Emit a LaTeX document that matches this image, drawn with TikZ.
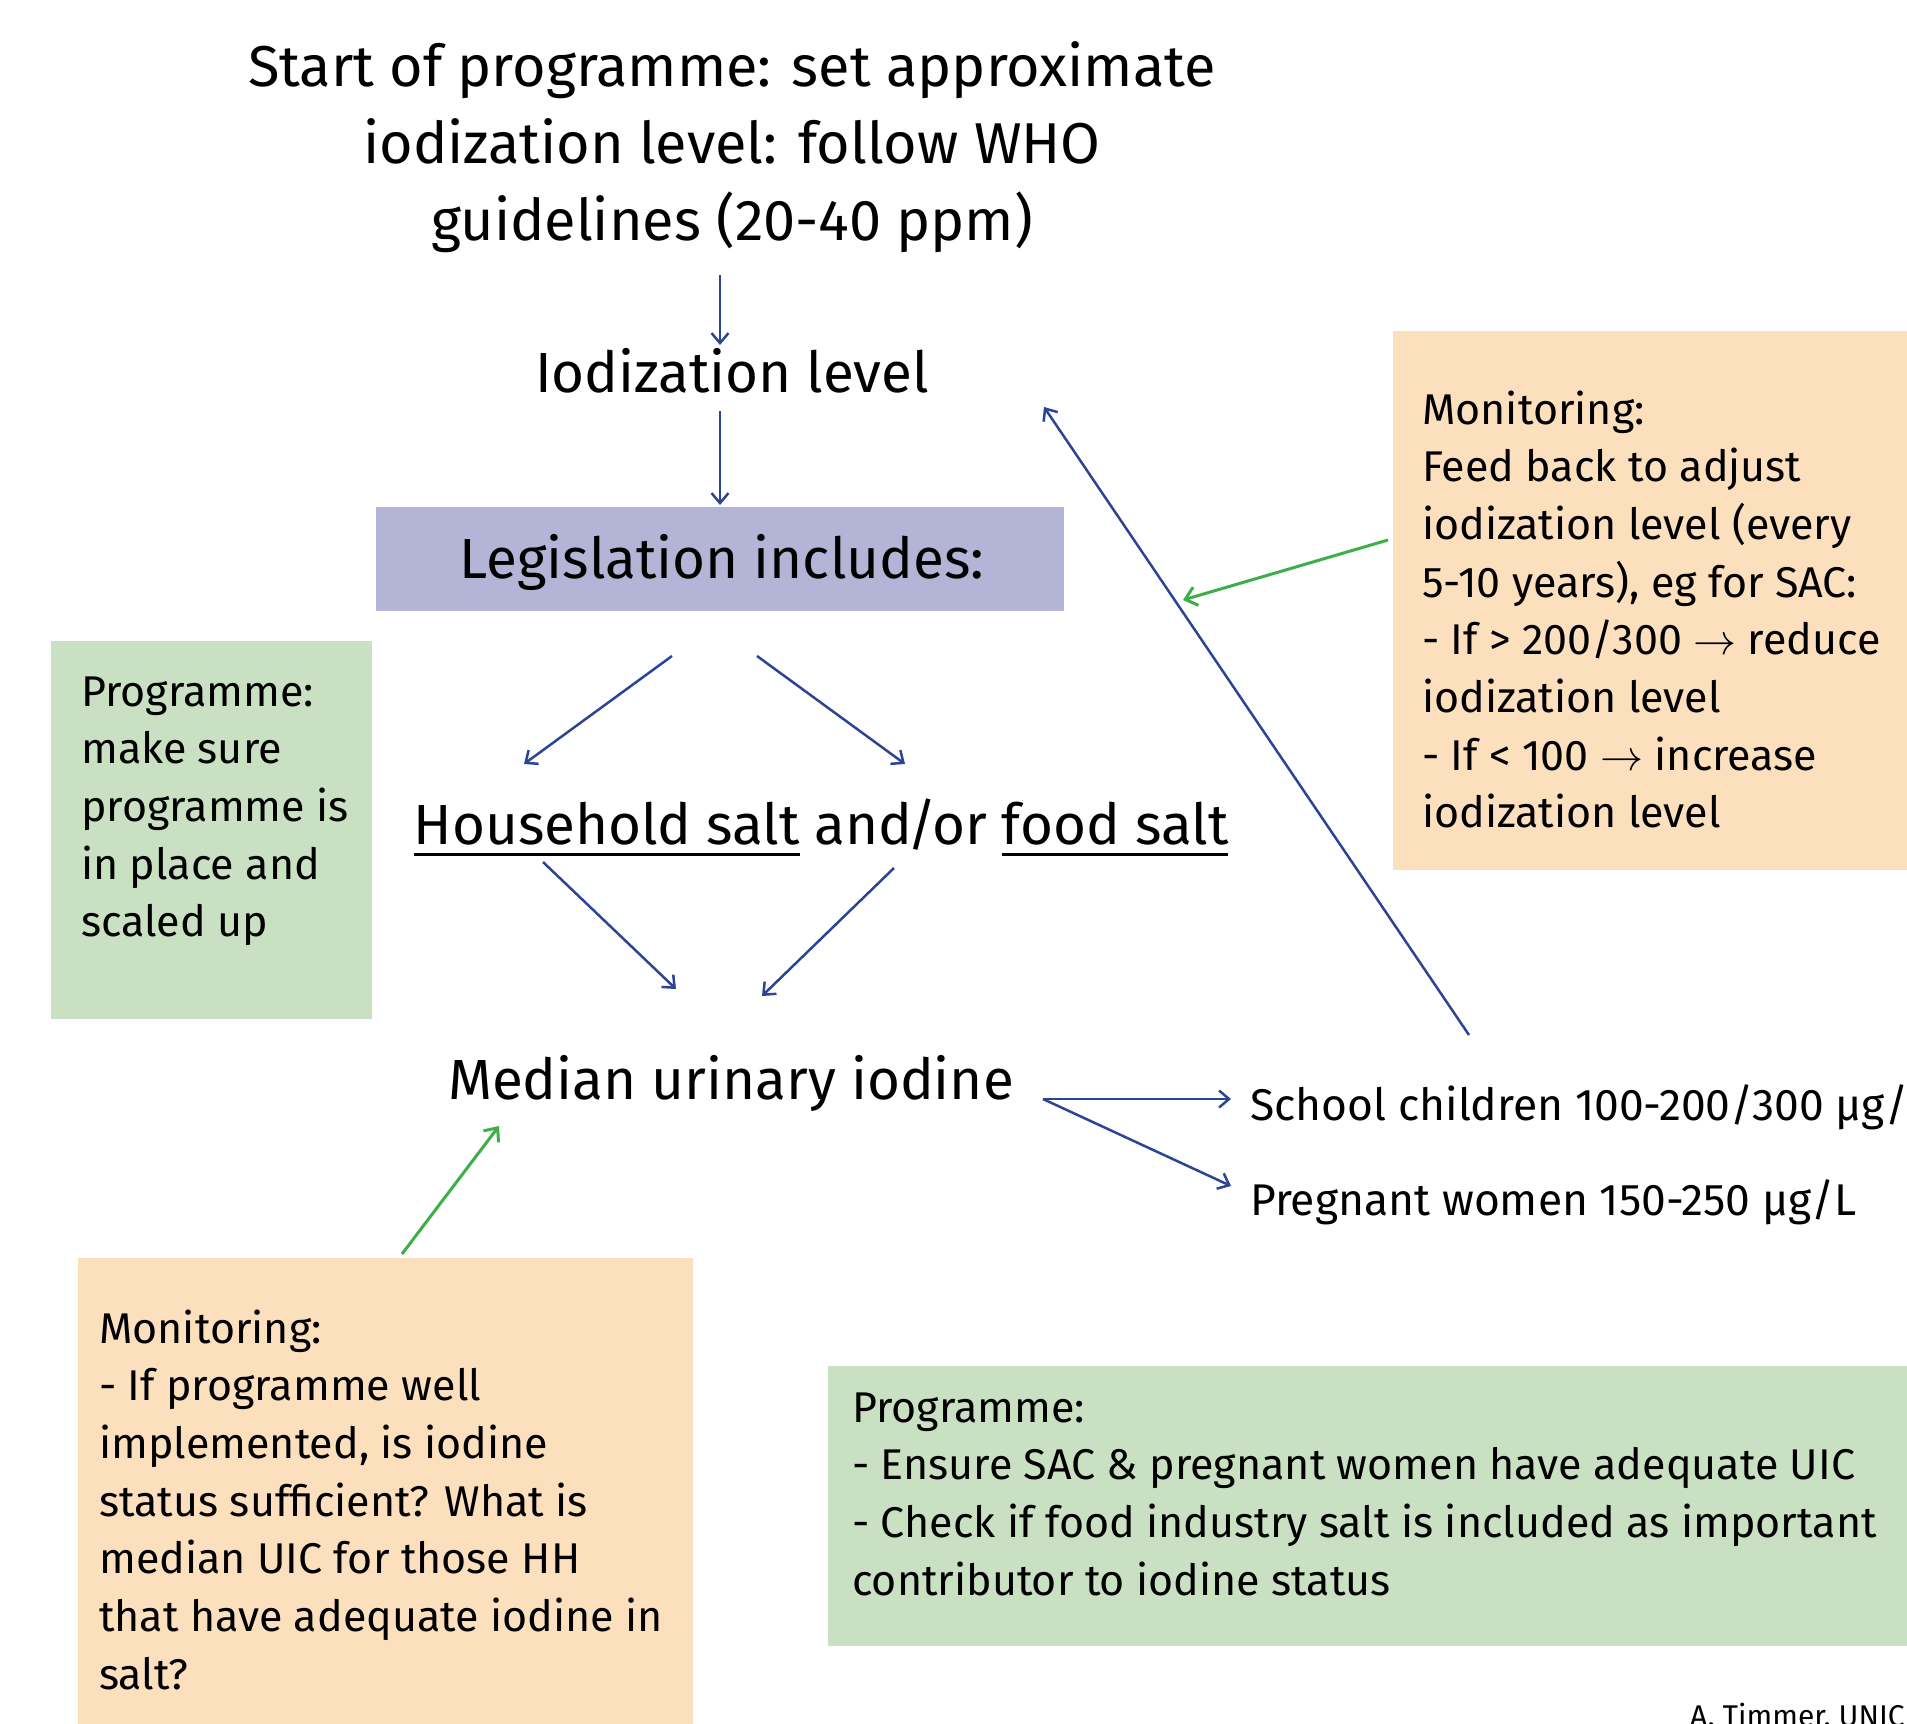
\RequirePackage{fix-cm}
\documentclass[tikz,border=0pt]{standalone}
\usepackage{fontspec}
\setmainfont{Fira Sans}
\usetikzlibrary{arrows.meta}
\definecolor{lav}{RGB}{179,180,214}
\definecolor{grnfill}{RGB}{201,224,194}
\definecolor{orgfill}{RGB}{252,224,190}
\definecolor{blueline}{RGB}{43,69,150}
\definecolor{greenline}{RGB}{61,174,73}
\newcommand\ulsalt[1]{\setbox0\hbox{#1}\rlap{\rule[-12pt]{\wd0}{2.8pt}}\box0\relax}
\begin{document}
\begin{tikzpicture}[x=1pt,y=-1pt,
  bluearrow/.style={draw=blueline,line width=2.5pt,-{Straight Barb[length=10pt,width=17pt]}},
  greenarrow/.style={draw=greenline,line width=3pt,-{Straight Barb[length=11pt,width=19pt]}},
  titletext/.style={inner sep=0pt,font=\fontsize{56.6}{77}\selectfont},
  headtext/.style={inner sep=0pt,font=\fontsize{57.6}{77}\selectfont},
  bodytext/.style={inner sep=0pt,font=\fontsize{43}{57.7}\selectfont},
  targettext/.style={inner sep=0pt,font=\fontsize{44.4}{57.7}\selectfont},
  panel/.style={draw=none,inner sep=0pt,anchor=north west}
]
\useasboundingbox (0,0) rectangle (1907,1724);
\clip (0,0) rectangle (1907,1724);

% boxes
\node[panel,fill=lav,minimum width=688pt,minimum height=104pt] (legbox) at (376,507) {};
\node[panel,fill=grnfill,minimum width=321pt,minimum height=378pt] (progbox) at (51,641) {};
\node[panel,fill=orgfill,minimum width=514pt,minimum height=539pt] (monbox) at (1393,331) {};
\node[panel,fill=orgfill,minimum width=615pt,minimum height=470pt] (mon2box) at (78,1258) {};
\node[panel,fill=grnfill,minimum width=1079pt,minimum height=280pt] (prog2box) at (828,1366) {};

% texts
\node[headtext,anchor=base] (title) at (732,86) {\begin{tabular}[t]{@{}c@{}}Start of programme: set approximate\\ iodization level: follow WHO\\ guidelines (20-40 ppm)\end{tabular}};
\node[titletext,anchor=base] (iod) at (732,392) {Iodization level};
\node[titletext,anchor=base] (leg) at (722,578) {Legislation includes:};
\node[titletext,anchor=base] (salt) at (821,844) {\ulsalt{Household salt} and\kern-5pt/\kern-5pt or \ulsalt{food salt}};
\node[titletext,anchor=base] (mui) at (731,1099) {Median urinary iodine};

\node[targettext,anchor=base west] (sc) at (1250,1120) {School children 100-200/300 µg/L};
\node[targettext,anchor=base west] (pw) at (1250,1215) {Pregnant women 150-250 µg/L};

\node[bodytext,anchor=base west] (prog) at (81,706) {\begin{tabular}[t]{@{}l@{}}Programme:\\ make sure\\ programme is\\ in place and\\ scaled up\end{tabular}};
\node[bodytext,anchor=base west] (mon) at (1422,424) {\begin{tabular}[t]{@{}l@{}}Monitoring:\\ Feed back to adjust\\ iodization level (every\\ 5-10 years), eg for SAC:\\ - If > 200/300 $\rightarrow$ reduce\\ iodization level\\ - If < 100 $\rightarrow$ increase\\ iodization level\end{tabular}};
\node[bodytext,anchor=base west] (mon2) at (99,1343) {\begin{tabular}[t]{@{}l@{}}Monitoring:\\ - If programme well\\ implemented, is iodine\\ status sufficient? What is\\ median UIC for those HH\\ that have adequate iodine in\\ salt?\end{tabular}};
\node[bodytext,anchor=base west] (prog2) at (852,1422) {\begin{tabular}[t]{@{}l@{}}Programme:\\ - Ensure SAC \& pregnant women have adequate UIC\\ - Check if food industry salt is included as important\\ contributor to iodine status\end{tabular}};
\node[inner sep=0pt,anchor=base west,font=\fontsize{30}{36}\selectfont] (credit) at (1690,1726) {A. Timmer, UNIC};

% connector ends
\coordinate (t1s) at (720,275); \coordinate (t1e) at (720,345);
\coordinate (t2s) at (720,411); \coordinate (t2e) at (720,505);
\coordinate (l1s) at (672,656); \coordinate (l1e) at (524,764);
\coordinate (l2s) at (757,656); \coordinate (l2e) at (905,764);
\coordinate (h1s) at (543,862); \coordinate (h1e) at (676,989);
\coordinate (h2s) at (894,868); \coordinate (h2e) at (762,996);
\coordinate (ms) at (1043,1099); \coordinate (sce) at (1231,1099); \coordinate (pwe) at (1231,1186);
\coordinate (fbs) at (1469,1035); \coordinate (fbe) at (1044,407);
\coordinate (g1s) at (1388,540); \coordinate (g1e) at (1183,600);
\coordinate (g2s) at (402,1254); \coordinate (g2e) at (499,1126);

\draw[bluearrow] (t1s) -- (t1e);
\draw[bluearrow] (t2s) -- (t2e);
\draw[bluearrow] (l1s) -- (l1e);
\draw[bluearrow] (l2s) -- (l2e);
\draw[bluearrow] (h1s) -- (h1e);
\draw[bluearrow] (h2s) -- (h2e);
\draw[bluearrow] (ms) -- (sce);
\draw[bluearrow] (ms) -- (pwe);
\draw[bluearrow] (fbs) -- (fbe);
\draw[greenarrow] (g1s) -- (g1e);
\draw[greenarrow] (g2s) -- (g2e);
\end{tikzpicture}
\end{document}
